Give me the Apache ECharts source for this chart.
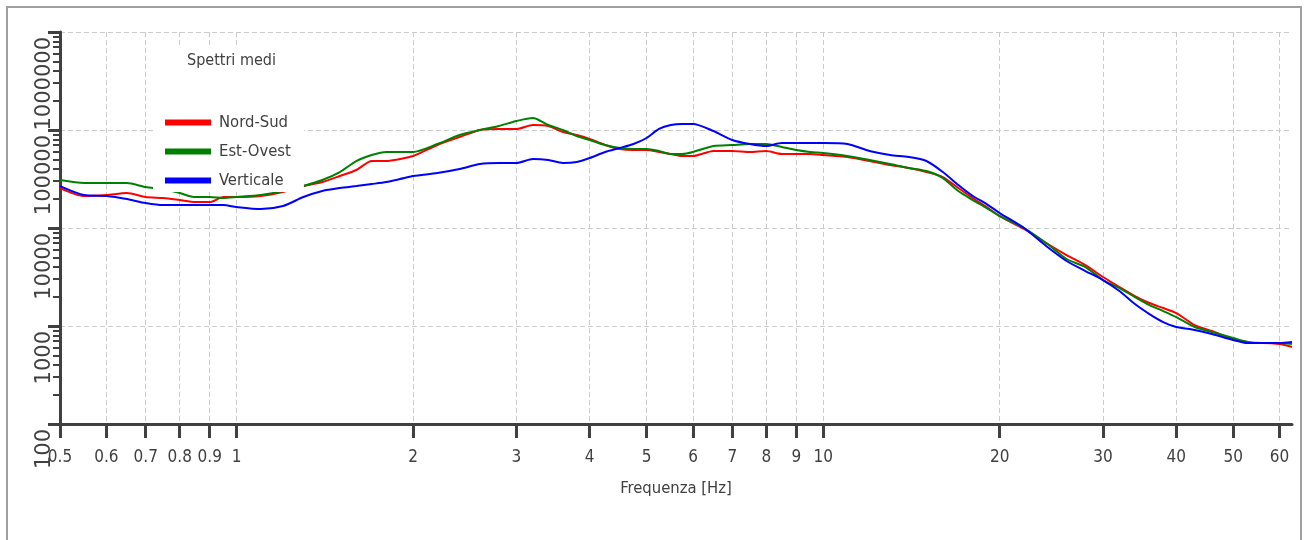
<!DOCTYPE html>
<html><head><meta charset="utf-8">
<script src="https://cdn.jsdelivr.net/npm/echarts@6/dist/echarts.min.js"></script>
<style>html,body{margin:0;padding:0;background:#fff}#c{width:1310px;height:540px}</style>
</head><body><div id="c"></div>
<script>
const frequencies = [0.5,0.55,0.6,0.65,0.7,0.75,0.8,0.85,0.9,0.95,1,1.1,1.2,1.3,1.4,1.5,1.6,1.7,1.8,1.9,2,2.2,2.4,2.6,2.8,3,3.2,3.4,3.6,3.8,4,4.25,4.5,4.75,5,5.25,5.5,5.75,6,6.5,7,7.5,8,8.5,9,9.5,10,11,12,13,14,15,16,17,18,19,20,22,24,26,28,30,32,34,36,38,40,43,46,50,53,56,60,63];
const nordSud = [25570,21190,21690,22730,20690,20210,19280,18400,18400,20690,20690,21190,23270,26800,29450,33910,39050,48250,48250,50570,54270,70280,84820,100000,102400,102400,112500,109800,95410,88910,80930,70280,63970,62490,62490,59620,56880,54270,54270,61030,61030,59620,61030,56880,56880,56880,55560,53000,48250,43920,40930,37250,33120,25570,20210,16360,13230,9768,7028,5301,4190,3160,2498,2022,1715,1525,1356,1023,889,737,671,671,655,611];
const estOvest = [30870,28760,28760,28760,26180,24980,22730,20690,20690,20210,20690,21690,23830,26800,30870,37250,48250,55560,59620,59620,59620,71950,88910,100000,109800,123600,132600,112500,100000,86840,79050,70280,65490,63970,63970,61030,56880,56880,59620,68650,70280,71950,71950,67050,62490,59620,58230,54270,49390,44960,40930,38140,32350,23830,19280,15980,13230,10000,7028,4825,3998,2945,2440,1975,1636,1421,1234,977,869,754,687,671,671,655];
const verticale = [26800,21690,21190,19740,17970,17140,17140,17140,17140,17140,16360,15600,16750,20690,23830,25570,26800,28090,29450,31600,33910,36390,39980,44960,46030,46030,50570,49390,46030,47130,51770,59620,65490,71950,82850,102400,112500,115200,115200,97680,79050,71950,68650,73660,73660,73660,73660,71950,61030,55560,53000,48250,37250,27440,21190,17550,14200,10000,6549,4603,3639,2945,2274,1675,1324,1097,977,910,829,720,671,671,671,687];
const xTickValues = [0.5,0.6,0.7,0.8,0.9,1,2,3,4,5,6,7,8,9,10,20,30,40,50,60];
const yMinorTicks = [200,300,400,500,600,700,800,900,2000,3000,4000,5000,6000,7000,8000,9000,20000,30000,40000,50000,60000,70000,80000,90000,200000,300000,400000,500000,600000,700000,800000,900000];
const seriesNames = ['Nord-Sud','Est-Ovest','Verticale'];
const seriesColors = ['#ff0000','#008000','#0000ff'];
const seriesValues = [nordSud, estOvest, verticale];

const FONT = "'Liberation Sans Narrow','DejaVu Sans Condensed','Arial Narrow',sans-serif";
const TXT = '#404040';
const gridLine = {show:true, lineStyle:{color:'#cccccc', type:[5,3], width:1}};

const chart = echarts.init(document.getElementById('c'), null, {renderer:'canvas'});
chart.setOption({
  backgroundColor:'#ffffff',
  animation:false,
  graphic:[{type:'rect', silent:true, z:-10, shape:{x:7,y:7,width:1294,height:545}, style:{fill:'none', stroke:'#a0a0a0', lineWidth:2}}],
  title:{text:'Spettri medi', left:187, top:53, padding:0, z:10,
    textStyle:{fontFamily:FONT, fontSize:16, fontWeight:'normal', color:TXT}},
  legend:{orient:'vertical', left:153, top:47, padding:[67,13,3,12], backgroundColor:'#ffffff',
    itemWidth:46, itemHeight:6, itemGap:12, icon:'rect', selectedMode:false, data:seriesNames,
    textStyle:{fontFamily:FONT, fontSize:16.5, color:TXT, padding:[0,0,0,3]}},
  grid:{left:60, right:18, top:32, bottom:116, outerBoundsMode:'none', containLabel:false},
  xAxis:{type:'log', logBase:10, min:0.5, max:63,
    name:'Frequenza [Hz]', nameLocation:'middle', nameGap:56,
    nameTextStyle:{fontFamily:FONT, fontSize:16.5, color:TXT},
    axisLine:{show:true, lineStyle:{color:TXT, width:3}},
    axisTick:{show:true, customValues:xTickValues, length:14, lineStyle:{color:TXT, width:3}},
    axisLabel:{show:true, customValues:xTickValues, margin:25, fontFamily:FONT, fontSize:17, color:TXT,
      formatter:v=>String(+(+v).toPrecision(6))},
    splitLine:gridLine},
  yAxis:[
    {type:'log', logBase:10, min:100, max:1000000, position:'left',
     axisLine:{show:true, lineStyle:{color:TXT, width:3}},
     axisTick:{show:true, length:12, lineStyle:{color:TXT, width:3}},
     axisLabel:{show:true, rotate:90, align:'right', verticalAlign:'middle', margin:15,
       fontFamily:"'DejaVu Sans',sans-serif", fontSize:21, color:TXT, padding:[0,5,0,0],
       formatter:v=>String(Math.round(v))},
     splitLine:gridLine},
    {type:'log', logBase:10, min:100, max:1000000, position:'left',
     axisLine:{show:false}, axisLabel:{show:false}, splitLine:{show:false},
     axisTick:{show:true, customValues:yMinorTicks, length:7, lineStyle:{color:TXT, width:2}}}
  ],
  series: seriesNames.map((name,k)=>({
    name, type:'line', xAxisIndex:0, yAxisIndex:0, smooth:0.25, symbol:'none', showSymbol:false,
    color:seriesColors[k], lineStyle:{color:seriesColors[k], width:2},
    data: frequencies.map((f,i)=>[f, seriesValues[k][i]])
  }))
});
</script></body></html>
